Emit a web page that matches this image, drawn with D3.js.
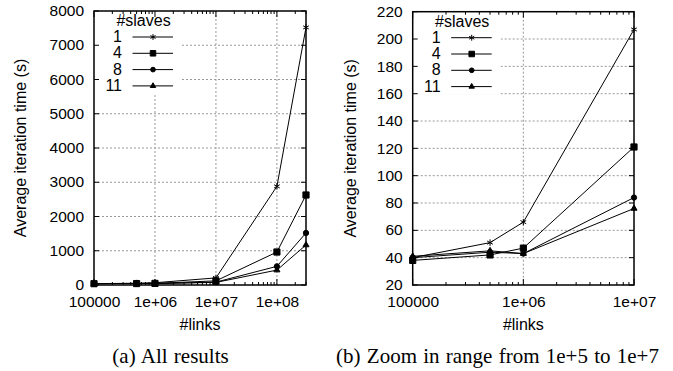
<!DOCTYPE html>
<html>
<head>
<meta charset="utf-8">
<script src="https://cdn.jsdelivr.net/npm/d3@7"></script>
<style>
  body { margin: 0; background: #fff; }
  text { font-family: "Liberation Sans", Arial, sans-serif; fill: #000; }
  .caption { font-family: "Liberation Serif", "Times New Roman", serif; }
</style>
</head>
<body>
<div class="chart"></div>
<script>
// number of links, one entry per measurement
const links = [1e5, 5e5, 1e6, 1e7, 1e8, 3e8];
const slaves = ['1', '4', '8', '11'];
// average iteration time (s) per number of slaves
const time1 = [40, 51, 66, 207, 2880, 7520];
const time4 = [38, 42, 47, 121, 963, 2628];
const time8 = [40, 44, 43, 84, 545, 1520];
const time11 = [41, 45, 43, 76, 435, 1168];

const xTicksA = [1e5, 1e6, 1e7, 1e8];
const xTicksB = [1e5, 1e6, 1e7];
const yTicksA = d3.range(0, 8001, 1000);
const yTicksB = d3.range(20, 221, 20);

const seriesList = [time1, time4, time8, time11];
const symbols = [d3.symbolAsterisk, d3.symbolSquare, d3.symbolCircle, d3.symbolTriangle];
const symSizes = [30, 38, 22, 16];
const fs = '16px';
const tickFs = '15.5px';

const svg = d3.select('.chart').append('svg').attr('width', 673).attr('height', 371);
svg.append('rect').attr('width', 673).attr('height', 371).attr('fill', '#fff');

function fmtLink(v) {
  if (v === 1e5) return '100000';
  return '1e+0' + Math.round(Math.log10(v));
}

function drawPanel(opt) {
  const g = svg.append('g');
  const x = d3.scaleLog().domain(opt.xDomain).range([opt.left, opt.right]);
  const y = d3.scaleLinear().domain(opt.yDomain).range([opt.bottom, opt.top]);

  // grid
  g.selectAll('.gy').data(opt.yTicks.slice(1, -1)).enter().append('line')
    .attr('x1', opt.left).attr('x2', opt.right)
    .attr('y1', d => y(d)).attr('y2', d => y(d))
    .attr('stroke', '#999').attr('stroke-width', 1).attr('stroke-dasharray', '2,2');
  g.selectAll('.gx').data(opt.xTicks.slice(1).filter(d => d < opt.xDomain[1])).enter().append('line')
    .attr('x1', d => x(d)).attr('x2', d => x(d))
    .attr('y1', opt.top).attr('y2', opt.bottom)
    .attr('stroke', '#999').attr('stroke-width', 1).attr('stroke-dasharray', '2,2');

  // legend background hides grid
  g.append('rect').attr('x', opt.left).attr('y', opt.top)
    .attr('width', 88).attr('height', 83).attr('fill', '#fff');

  // axes ticks
  const yAx = d3.axisLeft(y).tickValues(opt.yTicks).tickFormat(d3.format('d')).tickSize(0).tickPadding(10);
  const ya = g.append('g').attr('transform', 'translate(' + opt.left + ',0)').call(yAx);
  ya.select('.domain').remove();
  ya.selectAll('text').style('font-size', tickFs).attr('dy', '0.3em');

  const xAx = d3.axisBottom(x).tickValues(opt.xTicks).tickFormat(fmtLink).tickSize(0).tickPadding(11);
  const xa = g.append('g').attr('transform', 'translate(0,' + opt.bottom + ')').call(xAx);
  xa.select('.domain').remove();
  xa.selectAll('text').style('font-size', tickFs).attr('dy', '0.71em');

  // inner tick marks
  opt.yTicks.forEach(v => {
    g.append('line').attr('x1', opt.left).attr('x2', opt.left + 5).attr('y1', y(v)).attr('y2', y(v)).attr('stroke', '#000');
    g.append('line').attr('x1', opt.right).attr('x2', opt.right - 5).attr('y1', y(v)).attr('y2', y(v)).attr('stroke', '#000');
  });
  const minor = [];
  for (let e = 5; e <= 8; e++) {
    for (let k = 1; k <= 9; k++) {
      const v = k * Math.pow(10, e);
      if (v >= opt.xDomain[0] && v <= opt.xDomain[1]) minor.push({ v: v, major: k === 1 });
    }
  }
  minor.forEach(m => {
    const len = m.major ? 6 : 3;
    g.append('line').attr('x1', x(m.v)).attr('x2', x(m.v)).attr('y1', opt.bottom).attr('y2', opt.bottom - len).attr('stroke', '#000');
    g.append('line').attr('x1', x(m.v)).attr('x2', x(m.v)).attr('y1', opt.top).attr('y2', opt.top + len).attr('stroke', '#000');
  });

  // lines and points
  const line = d3.line().x(d => x(d[0])).y(d => y(d[1]));
  seriesList.forEach((s, i) => {
    const pts = links.map((l, j) => [l, s[j]]).filter(d => d[0] <= opt.xDomain[1]);
    g.append('path').datum(pts).attr('d', line)
      .attr('fill', 'none').attr('stroke', '#000').attr('stroke-width', 1);
    g.selectAll('.p' + i).data(pts).enter().append('path')
      .attr('transform', d => 'translate(' + x(d[0]) + ',' + y(d[1]) + ')')
      .attr('d', d3.symbol(symbols[i], symSizes[i]))
      .attr('fill', i === 0 ? 'none' : '#000')
      .attr('stroke', '#000').attr('stroke-width', 1);
  });

  // frame
  g.append('rect').attr('x', opt.left).attr('y', opt.top)
    .attr('width', opt.right - opt.left).attr('height', opt.bottom - opt.top)
    .attr('fill', 'none').attr('stroke', '#000').attr('stroke-width', 1.5);

  // legend
  const lg = g.append('g').attr('transform', 'translate(' + opt.left + ',' + opt.top + ')');
  lg.append('text').attr('x', 49.5).attr('y', 15).attr('text-anchor', 'middle')
    .style('font-size', fs).text('#slaves');
  slaves.forEach((name, i) => {
    const by = 31 + i * 16.3;
    lg.append('text').attr('x', 28).attr('y', by).attr('text-anchor', 'end')
      .style('font-size', fs).text(name);
    lg.append('line').attr('x1', 38.5).attr('x2', 79).attr('y1', by - 5).attr('y2', by - 5)
      .attr('stroke', '#000').attr('stroke-width', 1);
    lg.append('path').attr('transform', 'translate(59,' + (by - 5) + ')')
      .attr('d', d3.symbol(symbols[i], symSizes[i] * 0.8))
      .attr('fill', i === 0 ? 'none' : '#000').attr('stroke', '#000');
  });

  // axis titles
  g.append('text').attr('x', (opt.left + opt.right) / 2).attr('y', 330)
    .attr('text-anchor', 'middle').style('font-size', fs).text('#links');
  g.append('text').attr('transform', 'translate(' + opt.ytx + ',' + ((opt.top + opt.bottom) / 2) + ') rotate(-90)')
    .attr('text-anchor', 'middle').attr('dy', '0.35em').style('font-size', fs)
    .text('Average iteration time (s)');

  svg.append('text').attr('class', 'caption').attr('x', opt.capX).attr('y', 363)
    .attr('text-anchor', 'middle').style('font-size', '21px').style('word-spacing', '1px')
    .text(opt.caption);
}

drawPanel({
  left: 94, right: 306, top: 11, bottom: 285,
  xDomain: [1e5, 3e8], yDomain: [0, 8000],
  xTicks: xTicksA, yTicks: yTicksA, ytx: 20,
  capX: 170.5, caption: '(a) All results'
});
drawPanel({
  left: 412.7, right: 634, top: 11.7, bottom: 285,
  xDomain: [1e5, 1e7], yDomain: [20, 220],
  xTicks: xTicksB, yTicks: yTicksB, ytx: 350,
  capX: 497.5, caption: '(b) Zoom in range from 1e+5 to 1e+7'
});
</script>
</body>
</html>
